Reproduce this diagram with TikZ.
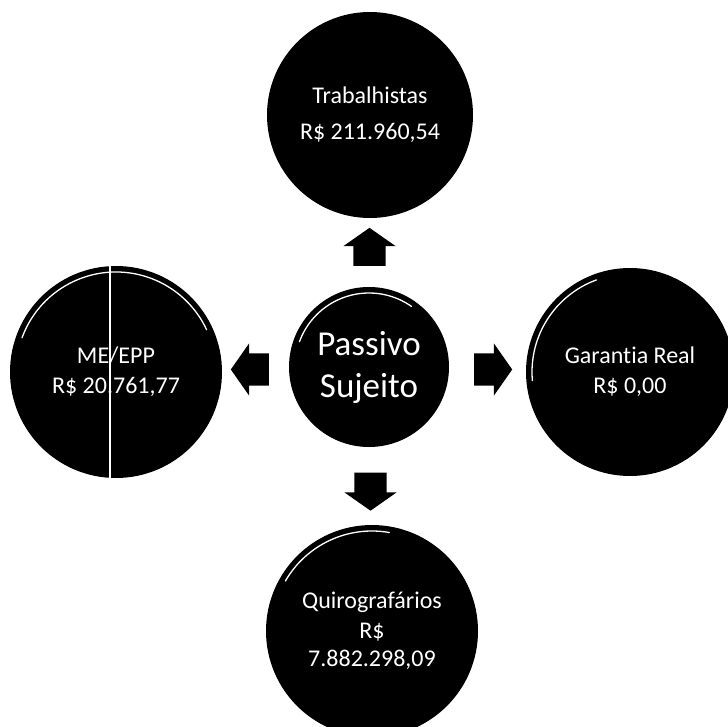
\documentclass[tikz,border=0pt]{standalone}
\usepackage{fontspec}
\setmainfont{Carlito}[Ligatures=NoCommon]
\usetikzlibrary{shapes.arrows,calc}

\begin{document}
\begin{tikzpicture}[x=1pt,y=1pt,yscale=-1,xscale=1]
\tikzset{
  bubble/.style={circle, fill=black, text=white, align=center, inner sep=0pt, font=\fontsize{24}{30}\selectfont},
  blockarrow/.style={single arrow, fill=black, inner xsep=0pt, inner ysep=16pt, minimum height=38pt,
    single arrow head extend=10pt, single arrow head indent=0pt, single arrow tip angle=110},
  gloss/.style={white, line width=1.3pt, line cap=round}
}
\useasboundingbox (0,0) rectangle (728,727);

%Shape: Circle [hub]
\node [bubble, minimum size=160pt, font=\fontsize{35}{42}\selectfont] (hub) at (369,367) {Passivo\\Sujeito};
%Shape: Circle [trab]
\node [bubble, minimum size=206pt] (trab) at (370,115) {Trabalhistas\\[6pt]R\$ 211.960,54};
%Shape: Circle [meepp]
\node [bubble, minimum size=212pt] (meepp) at (116,372) {ME/EPP\\R\$ 20.761,77};
%Shape: Circle [garantia]
\node [bubble, minimum size=208pt] (garantia) at (630,372) {Garantia Real\\R\$ 0,00};
%Shape: Circle [quiro]
\node [bubble, minimum size=212pt, font=\fontsize{24}{28}\selectfont] (quiro) at (372,631) {Quirografários\\[2pt]R\$\\7.882.298,09};

%Shape: Block Arrows
\node [blockarrow, rotate=90] (toptrab) at ($(hub.north)!0.5!(trab.south)$) {};
\node [blockarrow, rotate=180] (tomeepp) at ($(hub.west)!0.5!(meepp.east)$) {};
\node [blockarrow] (togarantia) at ($(hub.east)!0.5!(garantia.west)$) {};
\node [blockarrow, rotate=270] (toquiro) at ($(hub.south)!0.5!(quiro.north)$) {};

%Curve Lines: gloss
\draw [gloss] (hub) ++(-160:74) arc [start angle=-160, end angle=-55, radius=74];
\draw [gloss] (meepp) ++(-160:100) arc [start angle=-160, end angle=-25, radius=100];
\draw [gloss] (garantia) ++(-185:98) arc [start angle=-185, end angle=-110, radius=98];
\draw [gloss] (quiro) ++(-150:100) arc [start angle=-150, end angle=-80, radius=100];

%Straight Lines [id:scanline]
\draw [white, line width=1.5pt] (meepp.north) ++(-6,0) -- ++(0,212);

\end{tikzpicture}
\end{document}
